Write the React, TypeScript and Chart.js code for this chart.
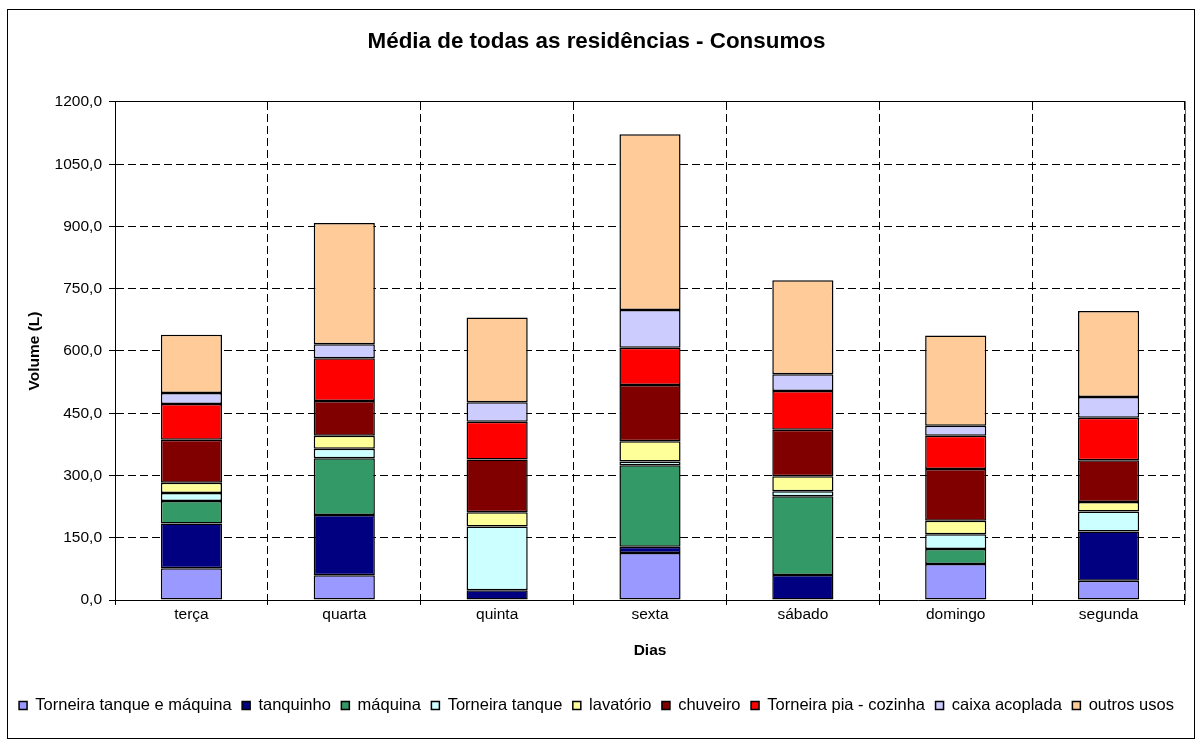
import { useEffect, useRef } from 'react';
import { Chart, registerables } from 'chart.js';

Chart.register(...registerables);

const days = ['terça', 'quarta', 'quinta', 'sexta', 'sábado', 'domingo', 'segunda'];

const torneiraTanqueMaquina = [76.3, 59.4, 0, 113.2, 0, 86.7, 46.6];
const tanquinho = [108.0, 145.6, 23.2, 15.4, 60.1, 0, 118.3];
const maquina = [54.5, 136.8, 0, 196.3, 189.9, 36.2, 0];
const torneiraTanque = [19.3, 22.4, 153.7, 8.9, 12.1, 35.3, 48.2];
const lavatorio = [24.2, 31.4, 34.5, 49.0, 36.2, 32.8, 23.2];
const chuveiro = [104.0, 83.8, 127.2, 135.2, 111.8, 124.8, 100.7];
const torneiraPia = [86.0, 103.0, 90.8, 90.0, 93.4, 79.7, 102.0];
const caixaAcoplada = [26.6, 33.8, 46.8, 91.0, 40.3, 24.1, 50.0];
const outrosUsos = [140.0, 292.1, 204.2, 423.2, 226.9, 218.0, 207.6];

const seriesNames = [
  'Torneira tanque e máquina',
  'tanquinho',
  'máquina',
  'Torneira tanque',
  'lavatório',
  'chuveiro',
  'Torneira pia - cozinha',
  'caixa acoplada',
  'outros usos',
];
const seriesValues = [
  torneiraTanqueMaquina,
  tanquinho,
  maquina,
  torneiraTanque,
  lavatorio,
  chuveiro,
  torneiraPia,
  caixaAcoplada,
  outrosUsos,
];
const seriesColors = [
  '#9999FF',
  '#000080',
  '#339966',
  '#CCFFFF',
  '#FFFF99',
  '#800000',
  '#FF0000',
  '#CCCCFF',
  '#FFCC99',
];

const alignPx = (p: number) => Math.round(p - 0.5) + 0.5;

const plotBorder = {
  id: 'plotBorder',
  afterDraw(chart: any) {
    const { ctx, chartArea } = chart;
    const l = alignPx(chartArea.left);
    const r = alignPx(chartArea.right);
    const t = alignPx(chartArea.top);
    const b = alignPx(chartArea.bottom);
    ctx.save();
    ctx.lineWidth = 1;
    ctx.setLineDash([]);
    ctx.strokeStyle = '#000';
    ctx.beginPath();
    ctx.moveTo(l, t);
    ctx.lineTo(r, t);
    ctx.stroke();
    ctx.strokeStyle = '#666';
    ctx.beginPath();
    ctx.moveTo(r, t);
    ctx.lineTo(r, b);
    ctx.stroke();
    ctx.restore();
  },
};

export default function App() {
  const ref = useRef<HTMLCanvasElement>(null);

  useEffect(() => {
    if (!ref.current) return;
    Chart.defaults.font.family = '"Liberation Sans", Arial, sans-serif';
    Chart.defaults.color = '#000';

    const chart = new Chart(ref.current, {
      type: 'bar',
      data: {
        labels: days,
        datasets: seriesNames.map((name, i) => ({
          label: name,
          data: seriesValues[i],
          backgroundColor: seriesColors[i],
          borderColor: '#000',
          borderWidth: 1.5,
          borderSkipped: false,
          categoryPercentage: 0.4,
          barPercentage: 1,
        })),
      },
      options: {
        responsive: false,
        animation: false,
        devicePixelRatio: 1,
        layout: { padding: { left: 0, right: 8, top: 0, bottom: 13.25 } },
        plugins: {
          title: {
            display: true,
            text: 'Média de todas as residências - Consumos',
            color: '#000',
            font: { size: 22.4, weight: 'bold' },
            padding: { top: 18.6, bottom: 46.5 },
          },
          legend: {
            display: true,
            position: 'bottom',
            align: 'center',
            labels: {
              boxWidth: 8,
              boxHeight: 8,
              padding: 10.5,
              color: '#000',
              font: { size: 16.5 },
            },
          },
          tooltip: { enabled: false },
        },
        scales: {
          x: {
            stacked: true,
            offset: true,
            grid: {
              offset: true,
              color: '#000',
              lineWidth: 1,
              tickLength: 5,
              drawTicks: true,
            },
            border: { display: true, color: '#000', width: 1, dash: [8, 4] },
            ticks: {
              color: '#000',
              font: { size: 15.5 },
              padding: 0,
              maxRotation: 0,
              autoSkip: false,
            },
            title: {
              display: true,
              text: 'Dias',
              color: '#000',
              font: { size: 15.5, weight: 'bold' },
              padding: { top: 0, bottom: 26.95 },
            },
            afterFit: (s: any) => {
              s.height = 86.75;
            },
          },
          y: {
            stacked: true,
            min: 0,
            max: 1200,
            grid: { color: '#000', lineWidth: 1, tickLength: 6 },
            border: { display: true, color: '#000', width: 1, dash: [8, 4] },
            ticks: {
              stepSize: 150,
              color: '#000',
              font: { size: 15.5 },
              padding: 7,
              callback: (v: any) => Number(v).toFixed(1).replace('.', ','),
            },
            title: {
              display: true,
              text: 'Volume (L)',
              color: '#000',
              font: { size: 15.5, weight: 'bold' },
              padding: { top: 17, bottom: 0 },
            },
            afterFit: (s: any) => {
              s.width = 107;
            },
          },
        },
      },
      plugins: [plotBorder],
    });

    return () => chart.destroy();
  }, []);

  return (
    <>
      <div
        style={{
          position: 'absolute',
          left: 7,
          top: 9,
          width: 1186,
          height: 728,
          border: '1px solid #000',
          background: '#fff',
        }}
      />
      <canvas
        ref={ref}
        width={1185}
        height={727}
        style={{ position: 'absolute', left: 8, top: 10, width: 1185, height: 727 }}
      />
    </>
  );
}
